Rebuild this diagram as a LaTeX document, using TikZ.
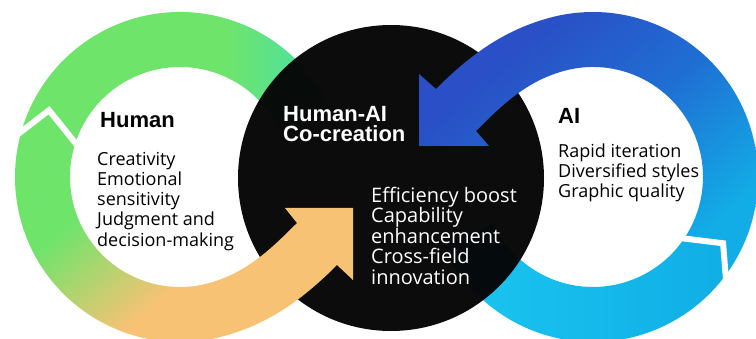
\documentclass[tikz,border=0pt]{standalone}
\usepackage{fontspec}
\setmainfont{Open Sans}
\newfontfamily\headfont{Liberation Sans}
\usetikzlibrary{calc}
\definecolor{gA}{HTML}{6FE46B}
\definecolor{gT}{HTML}{45E0AE}
\definecolor{oA}{HTML}{F7C274}
\definecolor{bA}{HTML}{2A4FC6}
\definecolor{bM}{HTML}{1F6ED3}
\definecolor{bC}{HTML}{12ACE6}
\definecolor{cA}{HTML}{1BC6F0}
\definecolor{cB}{HTML}{10AEE6}
\definecolor{blk}{HTML}{050505}
\pgfdeclarehorizontalshading{gtshade}{100bp}{color(0bp)=(gA); color(58bp)=(gA); color(75bp)=(gT); color(100bp)=(gT)}
\pgfdeclarehorizontalshading{goshade}{100bp}{color(0bp)=(gA); color(36bp)=(gA); color(56bp)=(oA); color(100bp)=(oA)}
\pgfdeclarehorizontalshading{bshade}{100bp}{color(0bp)=(bA); color(30bp)=(bA); color(50bp)=(bM); color(72bp)=(bC); color(100bp)=(bC)}
\begin{document}
\begin{tikzpicture}[x=1pt,y=-1pt,
  title/.style={font=\headfont\bfseries\fontsize{22}{20}\selectfont, inner sep=0pt, anchor=base west},
  item/.style={font=\fontsize{18}{20}\selectfont, inner sep=0pt, anchor=base west},
  citem/.style={font=\fontsize{20}{20.5}\selectfont, inner sep=0pt, anchor=base west, text=white},
  gap/.style={draw=white, line width=6pt, miter limit=10},
]
\useasboundingbox (0,0) rectangle (756,339);
\clip (0,0) rectangle (756,339);
\fill[white] (0,0) rectangle (756,339);
\coordinate (L) at (180,177);
\coordinate (R) at (593,177);
\coordinate (B) at (391,178);
% chevron points
\coordinate (lco) at ($(L)+(196:165)$);
\coordinate (lca) at ($(L)+(207:147)$);
\coordinate (lci) at ($(L)+(198:110)$);
\coordinate (rco) at ($(R)+(36.5:165)$);
\coordinate (rca) at ($(R)+(27:146)$);
\coordinate (rci) at ($(R)+(34:110)$);

% left upper piece (under the black disc)
\shade[shading=gtshade]
  (lco) arc[start angle=196, end angle=335, radius=165]
  -- ($(L)+(335:110)$) arc[start angle=335, end angle=198, radius=110]
  -- (lca) -- cycle;

% right lower piece (under the black disc)
\shade[left color=cA, right color=cB]
  (rco) -- (rca) -- (rci)
  arc[start angle=34, end angle=155, radius=110]
  -- ($(R)+(155:165)$) arc[start angle=155, end angle=36.5, radius=165] -- cycle;

% black disc
\fill[blk, opacity=0.97] (B) circle[radius=153pt];

% left lower piece with orange arrow
\shade[shading=goshade, shading angle=-50]
  (lco) -- (lca) -- (lci)
  arc[start angle=198, end angle=75, radius=110]
  .. controls (247.1,272.9) and (272.3,247.7) .. (297,223)
  -- (285,208) -- (353,208) -- (353,280) -- (337,265)
  .. controls (305.2,296.8) and (271,323.5) .. ($(L)+(75:165)$)
  arc[start angle=75, end angle=196, radius=165] -- cycle;

% right upper piece with blue arrow
\shade[shading=bshade, shading angle=-50]
  (rco) arc[start angle=36.5, end angle=-105, radius=165]
  .. controls (502,30.5) and (467.8,57.2) .. (436,89)
  -- (419,74) -- (419,146) -- (489,146) -- (476,131)
  .. controls (500.7,106.3) and (525.9,81.1) .. ($(R)+(-105:110)$)
  arc[start angle=-105, end angle=34, radius=110]
  -- (rca) -- cycle;

% chevron gaps
\draw[gap] ($(lca)!1.4!(lco)$) -- (lca) -- ($(lca)!1.4!(lci)$);
\draw[gap] ($(rca)!1.4!(rco)$) -- (rca) -- ($(rca)!1.4!(rci)$);

% texts
\node[title] (human) at (100,128) {Human};
\node[item] (h1) at (97,165.7) {Creativity};
\node[item] (h2) at (97,185.8) {Emotional};
\node[item] (h3) at (97,205.9) {sensitivity};
\node[item] (h4) at (97,226) {Judgment and};
\node[item] (h5) at (97,246.1) {decision-making};

\node[title, text=white, align=left, anchor=north west] (co) at (283,106) {Human-AI\\Co-creation};
\node[citem] (c1) at (371,202.5) {Efficiency boost};
\node[citem] (c2) at (371,223) {Capability};
\node[citem] (c3) at (371,243.5) {enhancement};
\node[citem] (c4) at (371,264) {Cross-field};
\node[citem] (c5) at (371,284.5) {innovation};

\node[title] (ai) at (558,124) {AI};
\node[item] (a1) at (558,157.5) {Rapid iteration};
\node[item] (a2) at (558,177.5) {Diversified styles};
\node[item] (a3) at (558,197.5) {Graphic quality};
\end{tikzpicture}
\end{document}
